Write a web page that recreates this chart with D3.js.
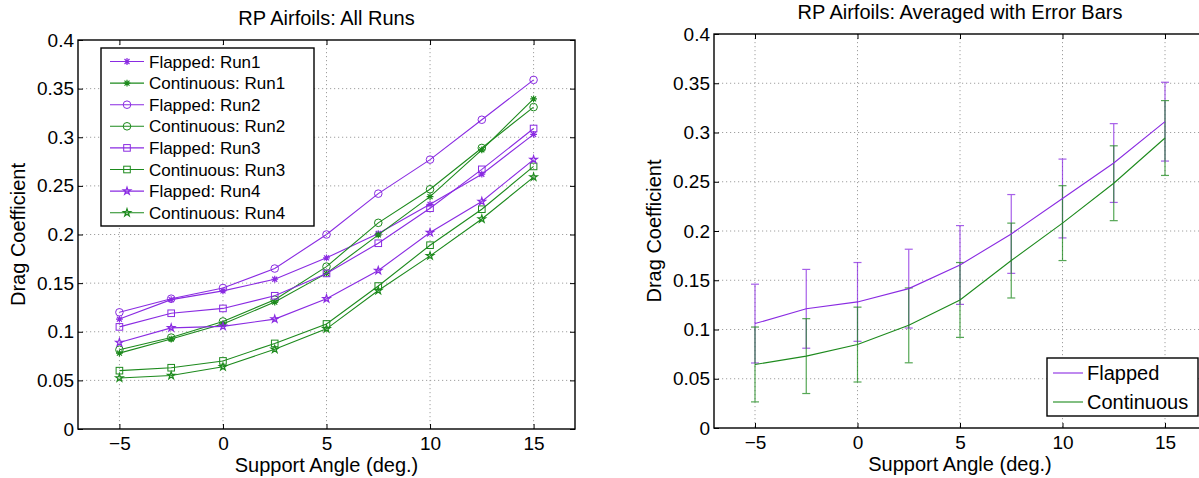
<!DOCTYPE html>
<html>
<head>
<meta charset="utf-8">
<script src="https://cdn.jsdelivr.net/npm/d3@7"></script>
<style>
  body { margin: 0; background: #fff; }
  svg { display: block; font-family: "Liberation Sans", Arial, Helvetica, sans-serif; }
  .grid line { stroke: #a0a0a0; stroke-dasharray: 1.2,2.8; }
</style>
</head>
<body>
<svg id="chart" width="1199" height="478"></svg>
<script>
// support angles and tick values
const angles = [-5, -2.5, 0, 2.5, 5, 7.5, 10, 12.5, 15];
const xTicks = [-5, 0, 5, 10, 15];
const yTicks = [0, 0.05, 0.1, 0.15, 0.2, 0.25, 0.3, 0.35, 0.4];

// all runs (left plot)
const flapRun1 = [0.113, 0.133, 0.142, 0.154, 0.176, 0.201, 0.231, 0.262, 0.303];
const contRun1 = [0.078, 0.0925, 0.108, 0.1305, 0.160, 0.1996, 0.239, 0.287, 0.3395];
const flapRun2 = [0.120, 0.134, 0.145, 0.165, 0.200, 0.242, 0.277, 0.318, 0.359];
const contRun2 = [0.0815, 0.094, 0.1106, 0.133, 0.167, 0.212, 0.2465, 0.289, 0.331];
const flapRun3 = [0.105, 0.119, 0.124, 0.137, 0.160, 0.191, 0.227, 0.267, 0.309];
const contRun3 = [0.060, 0.063, 0.070, 0.088, 0.108, 0.147, 0.189, 0.226, 0.270];
const flapRun4 = [0.089, 0.104, 0.1055, 0.113, 0.134, 0.163, 0.202, 0.234, 0.277];
const contRun4 = [0.0525, 0.055, 0.064, 0.082, 0.103, 0.1424, 0.178, 0.216, 0.259];

// averaged with error bars (right plot)
const flapMean = [0.106, 0.121, 0.128, 0.1415, 0.1655, 0.197, 0.233, 0.269, 0.311];
const flapErr  = [0.040, 0.040, 0.040, 0.040, 0.040, 0.040, 0.040, 0.040, 0.040];
const contMean = [0.0645, 0.073, 0.0847, 0.1042, 0.130, 0.170, 0.208, 0.2485, 0.2944];
const contErr  = [0.038, 0.038, 0.038, 0.038, 0.038, 0.038, 0.038, 0.038, 0.038];

const PURPLE = '#8a2be2';
const GREEN = '#1d8a1d';

const runs = [
  { name: 'Flapped: Run1', values: flapRun1, color: PURPLE, marker: 'asterisk' },
  { name: 'Continuous: Run1', values: contRun1, color: GREEN, marker: 'asterisk' },
  { name: 'Flapped: Run2', values: flapRun2, color: PURPLE, marker: 'circle' },
  { name: 'Continuous: Run2', values: contRun2, color: GREEN, marker: 'circle' },
  { name: 'Flapped: Run3', values: flapRun3, color: PURPLE, marker: 'square' },
  { name: 'Continuous: Run3', values: contRun3, color: GREEN, marker: 'square' },
  { name: 'Flapped: Run4', values: flapRun4, color: PURPLE, marker: 'star' },
  { name: 'Continuous: Run4', values: contRun4, color: GREEN, marker: 'star' }
];

const svg = d3.select('#chart');

function drawMarker(g, type, x, y, color) {
  if (type === 'circle') {
    g.append('circle').attr('cx', x).attr('cy', y).attr('r', 3.8)
      .attr('fill', 'none').attr('stroke', color).attr('stroke-width', 1);
  } else if (type === 'square') {
    g.append('rect').attr('x', x - 3.3).attr('y', y - 3.3).attr('width', 6.6).attr('height', 6.6)
      .attr('fill', 'none').attr('stroke', color).attr('stroke-width', 1);
  } else if (type === 'star') {
    g.append('path').attr('transform', `translate(${x},${y})`)
      .attr('d', d3.symbol(d3.symbolStar, 17)())
      .attr('fill', 'none').attr('stroke', color).attr('stroke-width', 1.2);
  } else {
    const r = 3.4, q = 2.5;
    g.append('path')
      .attr('d', `M${x - r},${y}H${x + r}M${x},${y - r}V${y + r}` +
        `M${x - q},${y - q}L${x + q},${y + q}M${x - q},${y + q}L${x + q},${y - q}`)
      .attr('stroke', color).attr('stroke-width', 1.2);
  }
}

// builds one set of axes, returns scales + plot group
function makeAxes(left, top, right, bottom, title, titleY) {
  const x = d3.scaleLinear().domain([-7, 17]).range([left, right]);
  const y = d3.scaleLinear().domain([0, 0.4]).range([bottom, top]);

  const grid = svg.append('g').attr('class', 'grid');
  grid.selectAll('.gx').data(xTicks).enter().append('line')
    .attr('x1', d => x(d)).attr('x2', d => x(d)).attr('y1', top).attr('y2', bottom);
  grid.selectAll('.gy').data(yTicks.slice(1, -1)).enter().append('line')
    .attr('x1', left).attr('x2', right).attr('y1', d => y(d)).attr('y2', d => y(d));

  const axB = svg.append('g').attr('transform', `translate(0,${bottom})`)
    .call(d3.axisBottom(x).tickValues(xTicks).tickSizeInner(-5).tickSizeOuter(0)
      .tickPadding(7).tickFormat(d => d < 0 ? '\u2212' + Math.abs(d) : d));
  const axT = svg.append('g').attr('transform', `translate(0,${top})`)
    .call(d3.axisTop(x).tickValues(xTicks).tickSizeInner(-5).tickSizeOuter(0).tickFormat(''));
  const axL = svg.append('g').attr('transform', `translate(${left},0)`)
    .call(d3.axisLeft(y).tickValues(yTicks).tickSizeInner(-5).tickSizeOuter(0)
      .tickPadding(4).tickFormat(d => d3.format('')(+d.toFixed(2))));
  const axR = svg.append('g').attr('transform', `translate(${right},0)`)
    .call(d3.axisRight(y).tickValues(yTicks).tickSizeInner(-5).tickSizeOuter(0).tickFormat(''));

  [axB, axT, axL, axR].forEach(a => {
    a.select('.domain').remove();
    a.selectAll('.tick line').attr('stroke', '#000').attr('stroke-width', 1);
    a.selectAll('.tick text').attr('fill', '#000').style('font-size', '19px')
      .style('font-family', '"Liberation Sans", Arial, sans-serif');
  });
  axB.selectAll('.tick text').attr('dy', '0.75em');

  svg.append('rect').attr('x', left).attr('y', top)
    .attr('width', right - left).attr('height', bottom - top)
    .attr('fill', 'none').attr('stroke', '#000').attr('stroke-width', 1.4);

  svg.append('text').attr('x', (left + right) / 2).attr('y', titleY)
    .attr('text-anchor', 'middle').style('font-size', '20px').text(title);
  svg.append('text').attr('x', (x(-5) + x(15)) / 2).attr('y', bottom + 43)
    .attr('text-anchor', 'middle').style('font-size', '20px').text('Support Angle (deg.)');
  svg.append('text')
    .attr('transform', `translate(${left - 60},${(top + bottom) / 2}) rotate(-90)`)
    .attr('text-anchor', 'middle').attr('dy', '0.35em').style('font-size', '20px')
    .text('Drag Coefficient');

  return { x, y, g: svg.append('g') };
}

// ---- left: all runs
const L = makeAxes(78, 40, 575, 429, 'RP Airfoils: All Runs', 25);
const line = d3.line().x((d, i) => L.x(angles[i])).y(d => L.y(d));
runs.forEach(r => {
  L.g.append('path').datum(r.values).attr('d', line)
    .attr('fill', 'none').attr('stroke', r.color).attr('stroke-width', 1.1);
  r.values.forEach((v, i) => drawMarker(L.g, r.marker, L.x(angles[i]), L.y(v), r.color));
});

const legL = svg.append('g');
legL.append('rect').attr('x', 101).attr('y', 48).attr('width', 213).attr('height', 178)
  .attr('fill', '#fff').attr('stroke', '#000').attr('stroke-width', 1.4);
runs.forEach((r, i) => {
  const yy = 61.5 + i * 21.6;
  legL.append('line').attr('x1', 110).attr('x2', 144).attr('y1', yy).attr('y2', yy)
    .attr('stroke', r.color).attr('stroke-width', 1.1);
  drawMarker(legL, r.marker, 127, yy, r.color);
  legL.append('text').attr('x', 149).attr('y', yy).attr('dy', '0.36em')
    .style('font-size', '17px').text(r.name);
});

// ---- right: averaged with error bars
const R = makeAxes(714, 34, 1206, 428, 'RP Airfoils: Averaged with Error Bars', 19);
const lineR = d3.line().x((d, i) => R.x(angles[i])).y(d => R.y(d));

function errorBars(mean, err, color, op) {
  const g = R.g.append('g').attr('stroke', color).attr('stroke-width', 1.2).attr('opacity', op);
  mean.forEach((m, i) => {
    const cx = R.x(angles[i]), y1 = R.y(m + err[i]), y2 = R.y(m - err[i]);
    g.append('line').attr('x1', cx).attr('x2', cx).attr('y1', y1).attr('y2', y2);
    g.append('line').attr('x1', cx - 4).attr('x2', cx + 4).attr('y1', y1).attr('y2', y1);
    g.append('line').attr('x1', cx - 4).attr('x2', cx + 4).attr('y1', y2).attr('y2', y2);
  });
}
errorBars(flapMean, flapErr, PURPLE, 0.75);
errorBars(contMean, contErr, GREEN, 0.75);

R.g.append('path').datum(flapMean).attr('d', lineR)
  .attr('fill', 'none').attr('stroke', PURPLE).attr('stroke-width', 1.1);
R.g.append('path').datum(contMean).attr('d', lineR)
  .attr('fill', 'none').attr('stroke', GREEN).attr('stroke-width', 1.1);

const legR = svg.append('g');
legR.append('rect').attr('x', 1047).attr('y', 358).attr('width', 151).attr('height', 58)
  .attr('fill', '#fff').attr('stroke', '#000').attr('stroke-width', 1.4);
[['Flapped', PURPLE], ['Continuous', GREEN]].forEach((e, i) => {
  const yy = 373 + i * 29;
  legR.append('line').attr('x1', 1053).attr('x2', 1083).attr('y1', yy).attr('y2', yy)
    .attr('stroke', e[1]).attr('stroke-width', 1.1);
  legR.append('text').attr('x', 1087).attr('y', yy).attr('dy', '0.36em')
    .style('font-size', '20px').text(e[0]);
});
</script>
</body>
</html>
